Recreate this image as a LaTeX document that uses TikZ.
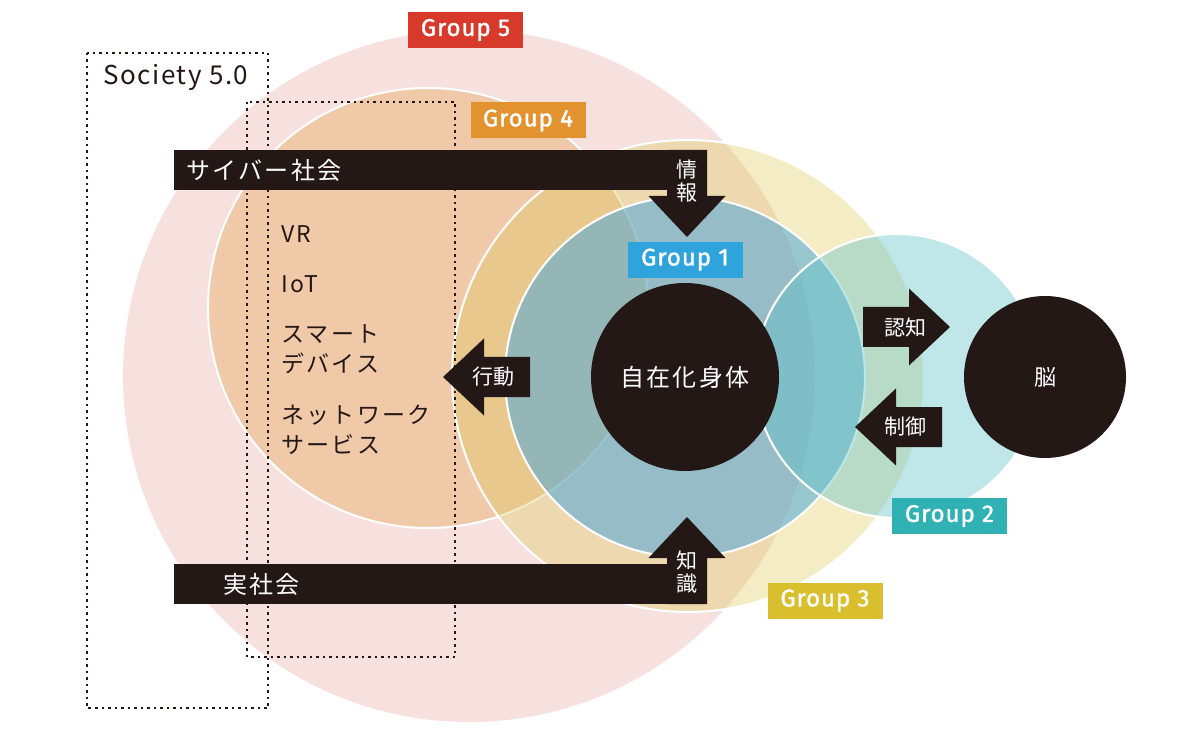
\documentclass[tikz,border=0pt]{standalone}
\usepackage{fontspec}
\setmainfont{Noto Sans CJK JP}
\newfontfamily\jpwide{Noto Sans CJK JP}[LetterSpace=10]
\newfontfamily\grpfont{Fira Sans}[FakeBold=1.5, LetterSpace=4]
\usepackage{tikz}
\usetikzlibrary{positioning}
\definecolor{inkblack}{HTML}{231815}
\definecolor{fivepink}{HTML}{F7E1DF}
\definecolor{fourpeach}{HTML}{F0C9A9}
\definecolor{threeyellow}{HTML}{DDC85A}
\definecolor{oneblue}{HTML}{50A8DA}
\definecolor{twocyan}{HTML}{5EC1C6}
\definecolor{tagred}{HTML}{D7392A}
\definecolor{tagorange}{HTML}{E2922E}
\definecolor{tagyellow}{HTML}{D9BF2E}
\definecolor{tagblue}{HTML}{2EA3DC}
\definecolor{tagteal}{HTML}{30B2B5}
\newcommand{\setpx}[2][1.2]{\fontsize{#2}{#1\dimexpr #2pt\relax}\selectfont}

\begin{document}
\begin{tikzpicture}[x=1pt, y=-1pt,
  group/.style={circle, inner sep=0pt, draw=white, line width=2pt},
  disc/.style={circle, inner sep=0pt, fill=inkblack, text=white},
  tag/.style={rectangle, inner sep=0pt, minimum width=115pt, minimum height=36pt, text=white, font={\grpfont\setpx{24}}},
  bar/.style={rectangle, fill=inkblack, inner sep=0pt, minimum width=533pt, minimum height=40pt, anchor=north west},
  bartext/.style={text=white, inner sep=0pt, font={\jpwide\setpx{24}}},
  arrtext/.style={text=white, inner sep=0pt, align=center, font={\setpx[1.1]{21}}},
  item/.style={anchor=base west, inner sep=0pt, text=inkblack, font={\jpwide\setpx{23}}},
  society/.style={draw=inkblack, line width=1.6pt, dash pattern=on 2.5pt off 4pt},
  blockarrow/.pic={\fill[inkblack] (0,0) -- (41,-38.5) -- (41,-20) -- (87,-20) -- (87,20) -- (41,20) -- (41,38.5) -- cycle;}
]
\useasboundingbox (0,0) rectangle (1200,735);

% groups
\node[group, draw=none, fill=fivepink, minimum size=692pt] (g5) at (469,376) {};
\node[group, fill=fourpeach, minimum size=440pt] (g4) at (428,308) {};
\node[group, fill=threeyellow, fill opacity=0.35, minimum size=472pt] (g3) at (688,376) {};
\node[group, fill=oneblue, fill opacity=0.55, minimum size=360pt] (g1) at (685,377) {};
\node[group, fill=twocyan, fill opacity=0.4, minimum size=284pt] (g2) at (897,376) {};
\node[disc, minimum size=188pt, font={\jpwide\setpx{24}}] (body) at (g1) {自在化身体};
\node[disc, minimum size=162pt, font={\setpx{22}}] (brain) at (1045,377) {脳};

% Society 5.0 frames
\draw[society] (87,53) rectangle (268,708);
\draw[society] (247,102) rectangle (455,657);
\node[anchor=base west, inner sep=0pt, text=inkblack, font={\setpx{26}\addfontfeature{LetterSpace=6}}] (soc) at (103,85) {Society 5.0};

\node[item] (vr) at (281,243) {VR};
\node[item] (iot) at (281,293) {IoT};
\node[item] (smart) at (281,343) {スマート};
\node[item] (device) at (281,373) {デバイス};
\node[item] (network) at (281,423) {ネットワーク};
\node[item] (service) at (281,453) {サービス};

% bars and arrows
\node[bar] (cyber) at (174,150) {};
\node[bar] (real) at (174,564) {};
\node[bartext, anchor=west, right=12pt of cyber.west] (cybertext) {サイバー社会};
\node[bartext, anchor=west, right=49pt of real.west] (realtext) {実社会};

\pic[rotate=90] at (687,237) {blockarrow};
\pic[rotate=-90] at (687,517) {blockarrow};
\pic at (443,377) {blockarrow};
\pic[rotate=180] at (950,327) {blockarrow};
\pic at (855,427) {blockarrow};

\node[arrtext] (info) at (687,181) {情\\報};
\node[arrtext] (know) at (687,572) {知\\識};
\node[arrtext] (act) at (493,377) {行動};
\node[arrtext] (cog) at (905,327) {認知};
\node[arrtext] (ctrl) at (905,427) {制御};

% group tags
\node[tag, fill=tagred] (t5) at (465.5,30) {Group 5};
\node[tag, fill=tagorange] (t4) at (528,120.5) {Group 4};
\node[tag, fill=tagblue, above=5pt of body] (t1) {Group 1};
\node[tag, fill=tagteal] (t2) at (949.5,516) {Group 2};
\node[tag, fill=tagyellow] (t3) at (825,600.5) {Group 3};
\end{tikzpicture}
\end{document}
